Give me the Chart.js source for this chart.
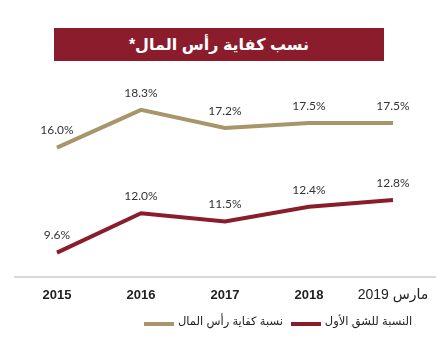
<!DOCTYPE html>
<html>
<head>
<meta charset="utf-8">
<script src="https://cdn.jsdelivr.net/npm/chart.js@4"></script>
<style>
  html, body { margin: 0; padding: 0; background: #fff; }
  #wrap { position: relative; width: 442px; height: 352px; }
  #banner {
    position: absolute; left: 54px; top: 28px; width: 330px; height: 33px;
    background: #8b1c2c; color: #fff; font: bold 16px Arial, "DejaVu Sans", sans-serif;
    display: flex; align-items: center; justify-content: center; direction: rtl;
  }
  canvas { position: absolute; left: 0; top: 0; }
  #legend {
    position: absolute; left: 144px; top: 314px; display: flex; align-items: center;
    font: 11.5px Arial, "DejaVu Sans", sans-serif; color: #222;
  }
  .key { display: inline-block; width: 30px; height: 4px; margin: 6px 4px 0 0; }
  .item { display: flex; align-items: center; margin-right: 8px; }
</style>
</head>
<body>
<div id="wrap">
  <canvas id="capChart" width="442" height="352"></canvas>
  <div id="banner">نسب كفاية رأس المال*</div>
  <div id="legend"></div>
</div>
<script>
const years = ['2015', '2016', '2017', '2018', 'مارس 2019'];
const capitalAdequacy = [16.0, 18.3, 17.2, 17.5, 17.5];
const tier1Ratio = [9.6, 12.0, 11.5, 12.4, 12.8];
const seriesNames = ['نسبة كفاية رأس المال', 'النسبة للشق الأول'];
const seriesColors = ['#a8956a', '#8b1c2c'];

// value labels above each point
const pointLabels = {
  id: 'pointLabels',
  afterDatasetsDraw(chart) {
    const ctx = chart.ctx;
    ctx.save();
    ctx.font = '12px Lato, Arial, sans-serif';
    ctx.fillStyle = '#333';
    ctx.textAlign = 'center';
    ctx.textBaseline = 'middle';
    chart.data.datasets.forEach((ds, i) => {
      chart.getDatasetMeta(i).data.forEach((pt, j) => {
        ctx.fillText(ds.data[j].toFixed(1) + '%', pt.x, pt.y - 17);
      });
    });
    ctx.restore();
  }
};

const chart = new Chart(document.getElementById('capChart'), {
  type: 'line',
  data: {
    labels: years,
    datasets: seriesNames.map((name, i) => ({
      label: name,
      data: i === 0 ? capitalAdequacy : tier1Ratio,
      borderColor: seriesColors[i],
      backgroundColor: seriesColors[i],
      borderWidth: 4,
      pointRadius: 0,
      tension: 0
    }))
  },
  options: {
    responsive: false,
    animation: false,
    layout: { padding: { left: 15, right: 7, top: 82, bottom: 38 } },
    plugins: {
      legend: { display: false },
      tooltip: { enabled: false }
    },
    scales: {
      x: {
        offset: true,
        grid: { display: false, drawTicks: false },
        border: { display: true, color: '#d9d9d9', width: 2 },
        ticks: {
          color: '#222',
          padding: 10,
          font: ctx => ({
            family: 'Arial, "DejaVu Sans", sans-serif',
            size: ctx.index === 4 ? 14 : 13,
            weight: ctx.index === 4 ? 'normal' : 'bold'
          })
        }
      },
      y: { display: false, min: 8.1, max: 20 }
    }
  },
  plugins: [pointLabels]
});

// legend built from the datasets
document.getElementById('legend').innerHTML = chart.data.datasets.map(ds => `
  <span class="item"><span class="key" style="background:${ds.borderColor}"></span>${ds.label}</span>
`).join('');
</script>
</body>
</html>
